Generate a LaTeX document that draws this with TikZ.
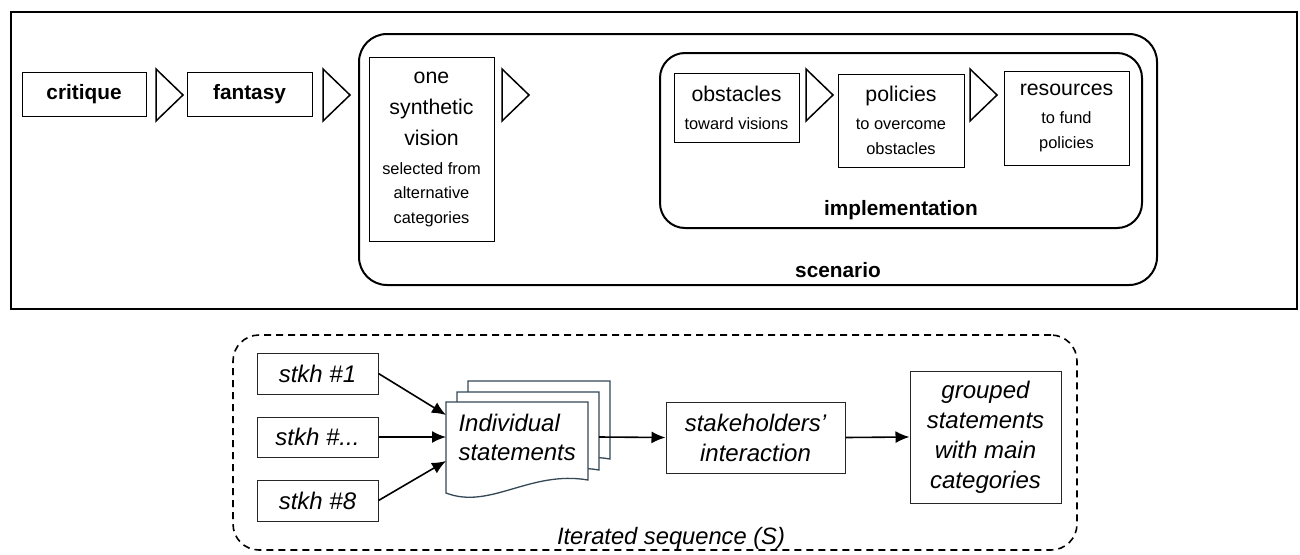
\documentclass[tikz,border=0pt]{standalone}
\usepackage{fontspec}
\setmainfont{Liberation Sans}
\usepackage{tikz}
\usetikzlibrary{arrows.meta}
\tikzset{>={Latex[width=12pt,length=14pt]}}
\definecolor{docgray}{RGB}{52,72,86}

\newcommand{\mainlab}{\fontsize{21.3}{31}\selectfont}
\newcommand{\sublab}{\fontsize{16.4}{24.5}\selectfont}

\begin{document}
\begin{tikzpicture}[x=1pt, y=-1pt,
  box/.style={draw=black, line width=1pt, inner sep=0pt, align=center, font=\sublab},
  boldbox/.style={box, font=\bfseries\fontsize{20.8}{25}\selectfont},
  tri/.style={draw=black, line width=1.5pt, line join=miter},
  holder/.style={draw=black, line width=2pt, rounded corners=28pt, inner sep=0pt},
  boldlab/.style={font=\bfseries\fontsize{20.8}{25}\selectfont},
  stbox/.style={draw=black!85, line width=1pt, inner sep=0pt, align=center,
    font=\itshape\fontsize{24}{30}\selectfont},
  docsheet/.style={draw=docgray, fill=white, line width=1.3pt},
  flow/.style={->, line width=1.6pt}]
  \useasboundingbox (0,0) rectangle (1300,554);

  % top: from critique to scenario
  \draw[black, line width=2.6pt] (11,12) rectangle (1297,309);

  \node[holder, minimum width=798pt, minimum height=251pt] (SCEN) at (758,159.5) {};
  \node[holder, rounded corners=25pt, minimum width=482pt, minimum height=175pt] (IMPL) at (901,140.5) {};
  \node[boldlab] (SCENLAB) at (838,270) {scenario};
  \node[boldlab] (IMPLLAB) at (901,210) {implementation};

  \node[boldbox, minimum width=124pt, minimum height=44pt] (CRIT) at (84,94) {critique};
  \node[boldbox, minimum width=125pt, minimum height=44pt] (FANT) at (249.5,94) {fantasy};
  \node[box, minimum width=125pt, minimum height=184pt] (VIS) at (431.5,149)
    {\mainlab one\\[6.5pt]\mainlab synthetic\\[6.5pt]\mainlab vision\\[4.5pt]selected from\\alternative\\categories};
  \node[box, minimum width=125pt, minimum height=69pt] (OBST) at (736.5,108)
    {\mainlab obstacles\\[3.5pt]toward visions};
  \node[box, minimum width=126pt, minimum height=93pt] (POL) at (901,120.5)
    {\mainlab policies\\[3.5pt]to overcome\\obstacles};
  \node[box, minimum width=125pt, minimum height=94pt] (RES) at (1066.5,118)
    {\mainlab resources\\[3.5pt]to fund\\policies};

  \draw[tri] (156,69) -- (183,95) -- (156,121) -- cycle;
  \draw[tri] (323,69) -- (350,95) -- (323,121) -- cycle;
  \draw[tri] (502,69) -- (529,95) -- (502,121) -- cycle;
  \draw[tri] (806,69) -- (833,95) -- (806,121) -- cycle;
  \draw[tri] (970,69) -- (997,95) -- (970,121) -- cycle;

  % bottom: iterated sequence
  \node[draw=black, line width=1.6pt, dash pattern=on 7pt off 5pt, rounded corners=26pt,
    minimum width=844pt, minimum height=215pt] (ITER) at (655,442.5) {};
  \node[font=\itshape\fontsize{23.7}{28}\selectfont] (ITERLAB) at (671,538) {Iterated sequence (S)};

  \node[stbox, minimum width=121pt, minimum height=41pt] (S1) at (317.5,373.5) {stkh \#1};
  \node[stbox, minimum width=121pt, minimum height=40pt] (S2) at (317.5,437) {stkh \#...};
  \node[stbox, minimum width=121pt, minimum height=41pt] (S3) at (317.5,500.5) {stkh \#8};

  \draw[docsheet, shift={(22,-21)}] (446,402) -- (588,402) -- (588,480)
    .. controls (530,470) and (490,510) .. (446,493) -- cycle;
  \draw[docsheet, shift={(11,-10)}] (446,402) -- (588,402) -- (588,480)
    .. controls (530,470) and (490,510) .. (446,493) -- cycle;
  \draw[docsheet] (446,402) -- (588,402) -- (588,480)
    .. controls (530,470) and (490,510) .. (446,493) -- cycle;
  \node[stbox, draw=none, align=left, anchor=west, font=\itshape\fontsize{24}{29}\selectfont]
    (INDIV) at (458,437) {Individual\\statements};

  \coordinate (IN1) at (446,415);
  \coordinate (IN2) at (446,437);
  \coordinate (IN3) at (446,461);
  \coordinate (OUT) at (599,437);

  \node[stbox, minimum width=179pt, minimum height=71pt] (INTER) at (755.5,437.5)
    {stakeholders’\\interaction};
  \node[stbox, minimum width=151pt, minimum height=132pt] (GROUP) at (985.5,437)
    {grouped\\statements\\with main\\categories};

  \draw[flow] (S1.east) -- (IN1);
  \draw[flow] (S2.east) -- (IN2);
  \draw[flow] (S3.east) -- (IN3);
  \draw[flow] (OUT) -- (INTER.west);
  \draw[flow] (INTER.east) -- (GROUP.west);
\end{tikzpicture}
\end{document}
